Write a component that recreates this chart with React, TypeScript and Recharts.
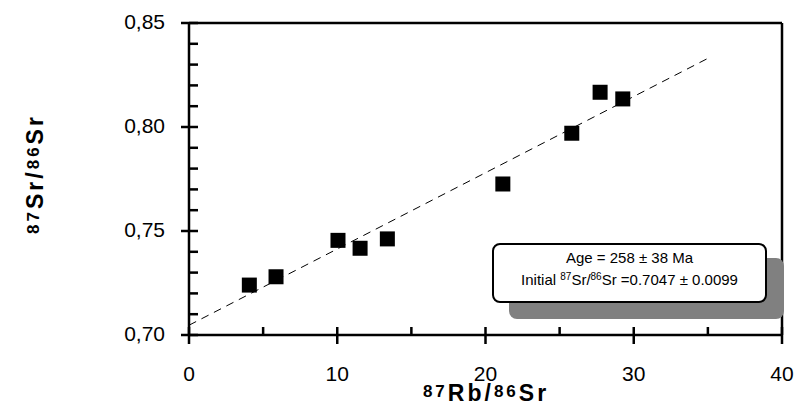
import { ReferenceLine, Scatter, ScatterChart, XAxis, YAxis } from "recharts";

// 87Rb/86Sr vs 87Sr/86Sr, whole-rock samples
const rbSr = [4.07, 5.87, 10.05, 11.54, 13.38, 21.17, 25.82, 27.73, 29.26];
const srSr = [0.724, 0.728, 0.7455, 0.7417, 0.7462, 0.7726, 0.797, 0.8167, 0.8135];

// isochron end points
const isoX = [0, 35];
const isoY = [0.7047, 0.833];

const xTicks = [0, 5, 10, 15, 20, 25, 30, 35, 40];
const xMajor = [0, 10, 20, 30, 40];
const yTicks = [0.7, 0.71, 0.72, 0.73, 0.74, 0.75, 0.76, 0.77, 0.78, 0.79, 0.8, 0.81, 0.82, 0.83, 0.84, 0.85];
const yMajor = [0.7, 0.75, 0.8, 0.85];

const ageText = "Age = 258 ± 38 Ma";
const initialText = "Sr =0.7047 ± 0.0099";

const FONT = "Arial, 'Liberation Sans', sans-serif";

const samples = rbSr.map((x, i) => ({ x, y: srSr[i] }));

const isMajor = (list: number[], v: number) => list.some((m) => Math.abs(m - Number(v)) < 1e-6);

function YTick(props: any) {
  const px = Number(props.x);
  const py = Number(props.y);
  const value = Number(props.payload.value);
  const ax = px + 24;
  const major = isMajor(yMajor, value);
  return (
    <g>
      <rect x={major ? ax - 8 : ax} y={py - 1.25} width={major ? 17 : 9} height={2.5} fill="#000" />
      {major && (
        <text x={px} y={py} dy="0.3em" textAnchor="end" fontSize={21} fontFamily={FONT} fill="#000">
          {value.toFixed(2).replace(".", ",")}
        </text>
      )}
    </g>
  );
}

function XTick(props: any) {
  const px = Number(props.x);
  const py = Number(props.y);
  const value = Number(props.payload.value);
  const ay = py - 31;
  const major = isMajor(xMajor, value);
  return (
    <g>
      <rect x={px - 1.25} y={ay - 8} width={2.5} height={major ? 17 : 8} fill="#000" />
      {major && (
        <text x={px} y={py} dy="0.71em" textAnchor="middle" fontSize={21} fontFamily={FONT} fill="#000">
          {value}
        </text>
      )}
    </g>
  );
}

function XTitle() {
  return (
    <text x={486} y={401} textAnchor="middle" fontSize={23} fontWeight="bold" fontFamily={FONT} fill="#000" letterSpacing={3}>
      <tspan fontSize={17} dy={-4}>87</tspan>
      <tspan dy={4}>Rb/</tspan>
      <tspan fontSize={17} dy={-4}>86</tspan>
      <tspan dy={4}>Sr</tspan>
    </text>
  );
}

function YTitle() {
  return (
    <text
      transform="translate(43,174) rotate(-90)"
      x={0}
      y={0}
      textAnchor="middle"
      fontSize={23}
      fontWeight="bold"
      fontFamily={FONT}
      fill="#000"
      letterSpacing={3}
    >
      <tspan fontSize={17} dy={-4}>87</tspan>
      <tspan dy={4}>Sr/</tspan>
      <tspan fontSize={17} dy={-4}>86</tspan>
      <tspan dy={4}>Sr</tspan>
    </text>
  );
}

function Square(props: any) {
  const { cx, cy } = props;
  return <rect x={cx - 7.5} y={cy - 7.5} width={15} height={15} fill="#000" />;
}

const supStyle = { fontSize: 10, position: "relative" as const, top: -5 };

export default function App() {
  return (
    <div style={{ position: "absolute", left: 0, top: 0, width: 798, height: 416, background: "#fff" }}>
      <ScatterChart width={798} height={416} margin={{ top: 23, right: 16, bottom: 0, left: 0 }}>
        <XAxis
          type="number"
          dataKey="x"
          domain={[0, 40]}
          ticks={xTicks}
          interval={0}
          height={81}
          tickSize={8}
          tickMargin={23}
          tickLine={false}
          tick={<XTick />}
          axisLine={{ stroke: "#000", strokeWidth: 2.5 }}
          label={XTitle}
        />
        <YAxis
          type="number"
          dataKey="y"
          domain={[0.7, 0.85]}
          ticks={yTicks}
          interval={0}
          width={189}
          tickSize={8}
          tickMargin={16}
          tickLine={false}
          tick={<YTick />}
          axisLine={{ stroke: "#000", strokeWidth: 2.5 }}
          label={YTitle}
        />
        <ReferenceLine x={40} stroke="#000" strokeWidth={2.5} />
        <ReferenceLine y={0.85} stroke="#000" strokeWidth={2.5} />
        <ReferenceLine
          segment={[
            { x: isoX[0], y: isoY[0] },
            { x: isoX[1], y: isoY[1] },
          ]}
          stroke="#000"
          strokeWidth={1}
          strokeDasharray="8 6"
        />
        <Scatter data={samples} shape={Square} isAnimationActive={false} />
      </ScatterChart>
      <div
        style={{
          position: "absolute",
          left: 509,
          top: 258,
          width: 275,
          height: 61,
          background: "#808080",
          borderRadius: 8,
        }}
      />
      <div
        style={{
          position: "absolute",
          left: 492,
          top: 243,
          width: 275,
          height: 60,
          boxSizing: "border-box",
          border: "2px solid #000",
          borderRadius: 8,
          background: "#fff",
          fontFamily: FONT,
          fontSize: 15,
          lineHeight: "22px",
          paddingTop: 2,
          textAlign: "center",
          color: "#000",
        }}
      >
        <div>{ageText}</div>
        <div>
          Initial <span style={supStyle}>87</span>Sr/<span style={supStyle}>86</span>
          {initialText}
        </div>
      </div>
    </div>
  );
}
